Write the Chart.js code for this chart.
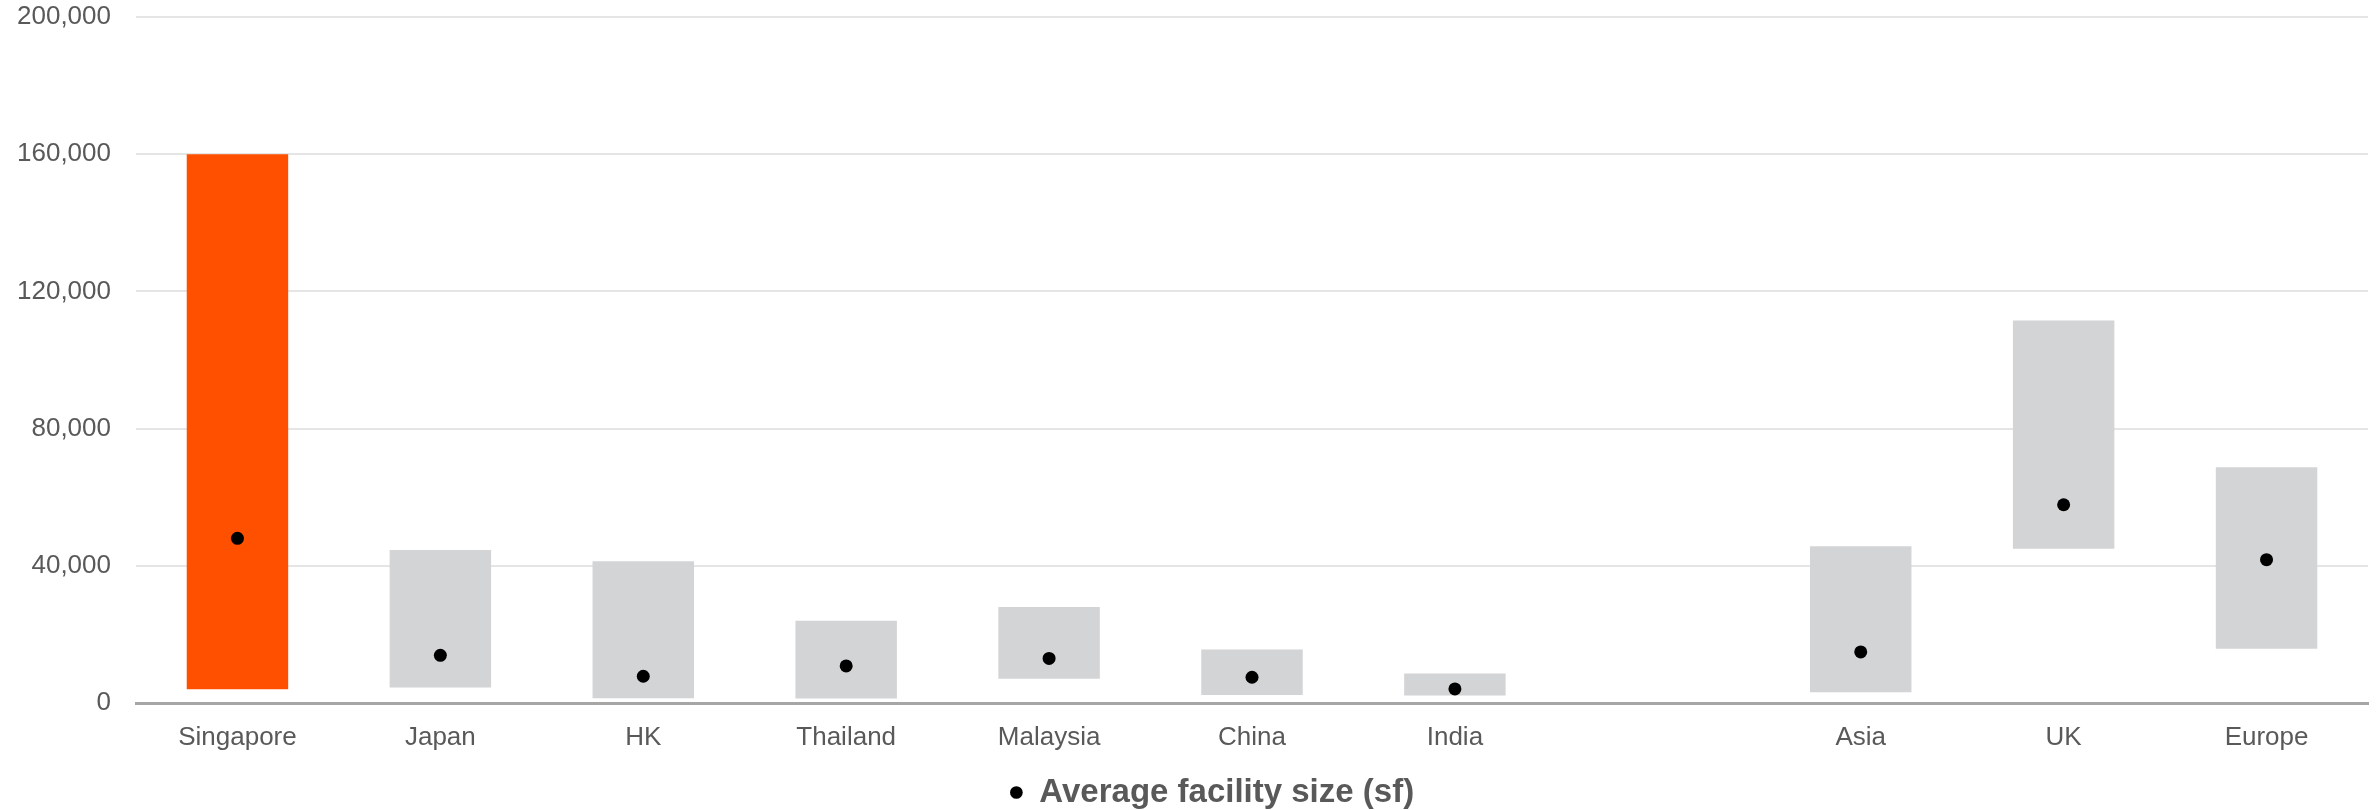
<!DOCTYPE html>
<html>
<head>
<meta charset="utf-8">
<script src="https://cdn.jsdelivr.net/npm/chart.js@4/dist/chart.umd.min.js"></script>
<style>
  html, body { margin: 0; padding: 0; background: #fff; }
  #wrap { width: 2377px; height: 810px; }
</style>
</head>
<body>
<div id="wrap"><canvas id="chart-facility-size"></canvas></div>
<script>
// categories (blank slot separates the markets from the regions)
var markets = ['Singapore', 'Japan', 'HK', 'Thailand', 'Malaysia', 'China', 'India', '', 'Asia', 'UK', 'Europe'];
// facility size range (sf)
var rangeLow = [4000, 4500, 1400, 1300, 7100, 2300, 2200, null, 3100, 45000, 15800];
var rangeHigh = [160000, 44600, 41300, 24000, 28000, 15600, 8600, null, 45700, 111500, 68700];
// average facility size (sf)
var avgSize = [48000, 13900, 7800, 10800, 13000, 7500, 4100, null, 14900, 57800, 41800];
var yTicks = [0, 40000, 80000, 120000, 160000, 200000];

var barColors = markets.map(function (m) { return m === 'Singapore' ? '#FF5000' : '#D3D4D6'; });
var ranges = rangeLow.map(function (lo, i) { return lo === null ? null : [lo, rangeHigh[i]]; });

var fontFamily = '"Liberation Sans", Arial, sans-serif';
var textColor = '#595959';

// the original legend sits a little right of the canvas centre
var nudgeLegend = {
    id: 'nudgeLegend',
    afterLayout: function (chart) {
        if (chart.legend) {
            chart.legend.left += 20;
            chart.legend.right += 20;
        }
    }
};

var ctx = document.getElementById('chart-facility-size').getContext('2d');
var chart = new Chart(ctx, {
    data: {
        labels: markets,
        datasets: [{
            type: 'line',
            label: 'Average facility size (sf)',
            data: avgSize,
            showLine: false,
            pointStyle: 'circle',
            pointRadius: 6.5,
            pointHoverRadius: 6.5,
            pointBackgroundColor: '#000000',
            pointBorderWidth: 0,
            backgroundColor: '#000000',
            borderColor: '#000000',
            order: 0
        }, {
            type: 'bar',
            label: 'Range',
            data: ranges,
            backgroundColor: barColors,
            borderWidth: 0,
            barPercentage: 0.5,
            categoryPercentage: 1.0,
            order: 1
        }]
    },
    plugins: [nudgeLegend],
    options: {
        responsive: true,
        maintainAspectRatio: false,
        animation: { duration: 0 },
        layout: { padding: { left: 16, right: 9, top: 0, bottom: -9 } },
        plugins: {
            tooltip: { enabled: false },
            legend: {
                position: 'bottom',
                labels: {
                    usePointStyle: true,
                    boxWidth: 13,
                    boxHeight: 9,
                    padding: 5,
                    color: textColor,
                    font: { family: fontFamily, size: 33, weight: 'bold' },
                    filter: function (item) { return item.datasetIndex === 0; }
                }
            }
        },
        scales: {
            x: {
                grid: { display: false },
                border: { display: true, color: '#A6A6A6', width: 3 },
                ticks: {
                    color: textColor,
                    padding: 11,
                    maxRotation: 0,
                    autoSkip: false,
                    font: { family: fontFamily, size: 26 }
                },
                afterFit: function (axis) {
                    axis.height = 68;
                }
            },
            y: {
                min: 0,
                max: 200000,
                afterBuildTicks: function (axis) {
                    axis.ticks = yTicks.map(function (v) { return { value: v }; });
                },
                afterFit: function (axis) {
                    axis.width = 120;
                    axis.paddingTop = 17;
                    axis.paddingBottom = 0;
                },
                grid: { color: '#E5E5E5', lineWidth: 2, drawTicks: false },
                border: { display: false },
                ticks: {
                    color: textColor,
                    padding: 25,
                    font: { family: fontFamily, size: 26 },
                    callback: function (v) { return Number(v).toLocaleString('en-US'); }
                }
            }
        }
    }
});
</script>
</body>
</html>
